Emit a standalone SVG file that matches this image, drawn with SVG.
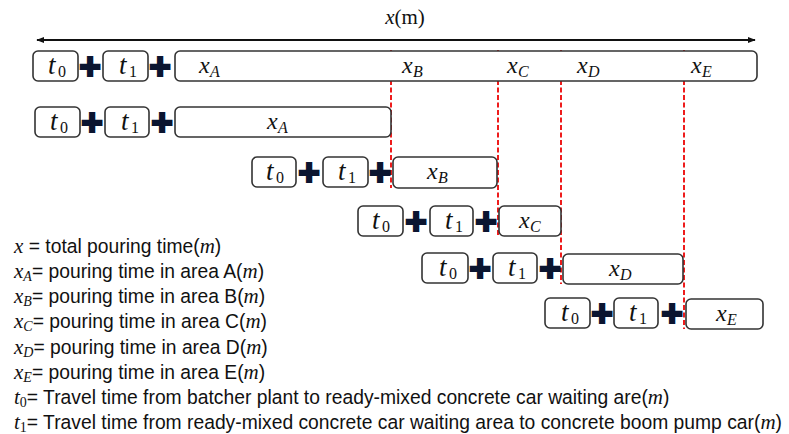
<svg xmlns="http://www.w3.org/2000/svg" width="789" height="434" viewBox="0 0 789 434">
<defs>
<style>
.box{fill:#fff;stroke:#333;stroke-width:1.6}
.m{font-family:"Liberation Serif",serif;font-style:italic;font-size:24px;fill:#111}
.t{font-family:"Liberation Serif",serif;font-style:italic;font-size:27px;fill:#111}
.sub{font-family:"Liberation Serif",serif;font-size:16px;fill:#111}
.subi{font-family:"Liberation Serif",serif;font-style:italic;font-size:16px;fill:#111}
.plus{font-family:"Liberation Sans",sans-serif;font-weight:bold;font-size:37px;fill:#0b1530;stroke:#0b1530;stroke-width:2.2;text-anchor:middle}
.dash{stroke:#ee1c1c;stroke-width:2;stroke-dasharray:5,2.5;fill:none}
.lg{font-family:"Liberation Sans",sans-serif;font-size:19.3px;fill:#111}
.lgm{font-family:"Liberation Serif",serif;font-style:italic;font-size:21px}
.lgs{font-family:"Liberation Serif",serif;font-style:italic;font-size:14px}
.lgsn{font-family:"Liberation Serif",serif;font-size:14px}
</style>
<marker id="ah" viewBox="0 0 10 10" refX="9" refY="5" markerWidth="8" markerHeight="8" markerUnits="userSpaceOnUse" orient="auto-start-reverse">
<path d="M0,1 L10,5 L0,9 z" fill="#111"/>
</marker>
</defs>
<rect width="789" height="434" fill="#fff"/>

<text x="405" y="24" text-anchor="middle" font-family="Liberation Serif,serif" font-size="21" fill="#111"><tspan font-style="italic">x</tspan>(m)</text>

<g id="connectors">
<line x1="37" y1="40" x2="755" y2="40" stroke="#111" stroke-width="2" marker-start="url(#ah)" marker-end="url(#ah)"/>
<line class="dash" x1="391" y1="50" x2="391" y2="188"/>
<line class="dash" x1="498" y1="50" x2="498" y2="236"/>
<line class="dash" x1="561" y1="50" x2="561" y2="284"/>
<line class="dash" x1="684" y1="50" x2="684" y2="329"/>
</g>

<!-- Row 1 -->
<g id="r1-t0"><rect class="box" x="33" y="51" width="45" height="30" rx="5"/><text class="t" x="48" y="74">t</text><text class="sub" x="58" y="77">0</text></g>
<text class="plus" x="90" y="79">+</text>
<g id="r1-t1"><rect class="box" x="103" y="51" width="45" height="30" rx="5"/><text class="t" x="119" y="74">t</text><text class="sub" x="129" y="77">1</text></g>
<text class="plus" x="160" y="79">+</text>
<g id="r1-x"><rect class="box" x="175" y="51" width="582" height="30" rx="5"/>
<text class="m" x="199" y="73">x</text><text class="subi" x="210" y="77">A</text>
<text class="m" x="402" y="73">x</text><text class="subi" x="413" y="77">B</text>
<text class="m" x="507" y="73">x</text><text class="subi" x="518" y="77">C</text>
<text class="m" x="577" y="73">x</text><text class="subi" x="588" y="77">D</text>
<text class="m" x="691" y="73">x</text><text class="subi" x="702" y="77">E</text>
</g>

<!-- Row 2 -->
<g id="r2-t0"><rect class="box" x="35" y="107" width="45" height="30" rx="5"/><text class="t" x="50" y="130">t</text><text class="sub" x="60" y="133">0</text></g>
<text class="plus" x="92" y="135">+</text>
<g id="r2-t1"><rect class="box" x="105" y="107" width="44" height="30" rx="5"/><text class="t" x="121" y="130">t</text><text class="sub" x="131" y="133">1</text></g>
<text class="plus" x="162" y="135">+</text>
<g id="r2-xA"><rect class="box" x="175" y="107" width="216" height="30" rx="5"/><text class="m" x="267" y="129">x</text><text class="subi" x="278" y="133">A</text></g>

<!-- Row 3 -->
<g id="r3-t0"><rect class="box" x="252" y="157" width="44" height="30" rx="5"/><text class="t" x="266" y="180">t</text><text class="sub" x="276" y="183">0</text></g>
<text class="plus" x="309" y="185">+</text>
<g id="r3-t1"><rect class="box" x="323" y="157" width="45" height="30" rx="5"/><text class="t" x="338" y="180">t</text><text class="sub" x="348" y="183">1</text></g>
<text class="plus" x="380" y="185">+</text>
<g id="r3-xB"><rect class="box" x="393" y="157" width="104" height="31" rx="5"/><text class="m" x="427" y="179">x</text><text class="subi" x="438" y="183">B</text></g>

<!-- Row 4 -->
<g id="r4-t0"><rect class="box" x="358" y="206" width="45" height="30" rx="5"/><text class="t" x="372" y="229">t</text><text class="sub" x="382" y="232">0</text></g>
<text class="plus" x="416" y="234">+</text>
<g id="r4-t1"><rect class="box" x="430" y="206" width="43" height="30" rx="5"/><text class="t" x="445" y="229">t</text><text class="sub" x="455" y="232">1</text></g>
<text class="plus" x="486" y="234">+</text>
<g id="r4-xC"><rect class="box" x="499" y="206" width="62" height="30" rx="5"/><text class="m" x="519" y="228">x</text><text class="subi" x="530" y="232">C</text></g>

<!-- Row 5 -->
<g id="r5-t0"><rect class="box" x="422" y="253" width="46" height="30" rx="5"/><text class="t" x="439" y="276">t</text><text class="sub" x="449" y="279">0</text></g>
<text class="plus" x="480" y="281">+</text>
<g id="r5-t1"><rect class="box" x="493" y="253" width="44" height="30" rx="5"/><text class="t" x="508" y="276">t</text><text class="sub" x="518" y="279">1</text></g>
<text class="plus" x="550" y="281">+</text>
<g id="r5-xD"><rect class="box" x="563" y="254" width="120" height="30" rx="5"/><text class="m" x="609" y="276">x</text><text class="subi" x="620" y="280">D</text></g>

<!-- Row 6 -->
<g id="r6-t0"><rect class="box" x="545" y="298" width="45" height="30" rx="5"/><text class="t" x="561" y="321">t</text><text class="sub" x="571" y="324">0</text></g>
<text class="plus" x="602" y="326">+</text>
<g id="r6-t1"><rect class="box" x="614" y="298" width="44" height="30" rx="5"/><text class="t" x="629" y="321">t</text><text class="sub" x="639" y="324">1</text></g>
<text class="plus" x="672" y="326">+</text>
<g id="r6-xE"><rect class="box" x="686" y="299" width="77" height="30" rx="5"/><text class="m" x="716" y="321">x</text><text class="subi" x="727" y="325">E</text></g>

<!-- Legend -->
<g id="legend">
<text class="lg" x="14" y="253"><tspan class="lgm">x</tspan> = total pouring time(<tspan class="lgm">m</tspan>)</text>
<text class="lg" x="14" y="278"><tspan class="lgm">x</tspan><tspan class="lgs" dy="3">A</tspan><tspan dy="-3">= pouring time in area A(</tspan><tspan class="lgm">m</tspan>)</text>
<text class="lg" x="14" y="303"><tspan class="lgm">x</tspan><tspan class="lgs" dy="3">B</tspan><tspan dy="-3">= pouring time in area B(</tspan><tspan class="lgm">m</tspan>)</text>
<text class="lg" x="14" y="328"><tspan class="lgm">x</tspan><tspan class="lgs" dy="3">C</tspan><tspan dy="-3">= pouring time in area C(</tspan><tspan class="lgm">m</tspan>)</text>
<text class="lg" x="14" y="354"><tspan class="lgm">x</tspan><tspan class="lgs" dy="3">D</tspan><tspan dy="-3">= pouring time in area D(</tspan><tspan class="lgm">m</tspan>)</text>
<text class="lg" x="14" y="379"><tspan class="lgm">x</tspan><tspan class="lgs" dy="3">E</tspan><tspan dy="-3">= pouring time in area E(</tspan><tspan class="lgm">m</tspan>)</text>
<text class="lg" x="14" y="404"><tspan class="lgm">t</tspan><tspan class="lgsn" dy="3">0</tspan><tspan dy="-3">= Travel time from batcher plant to ready-mixed concrete car waiting are(</tspan><tspan class="lgm">m</tspan>)</text>
<text class="lg" x="14" y="429"><tspan class="lgm">t</tspan><tspan class="lgsn" dy="3">1</tspan><tspan dy="-3">= Travel time from ready-mixed concrete car waiting area to concrete boom pump car(</tspan><tspan class="lgm">m</tspan>)</text>
</g>
</svg>
